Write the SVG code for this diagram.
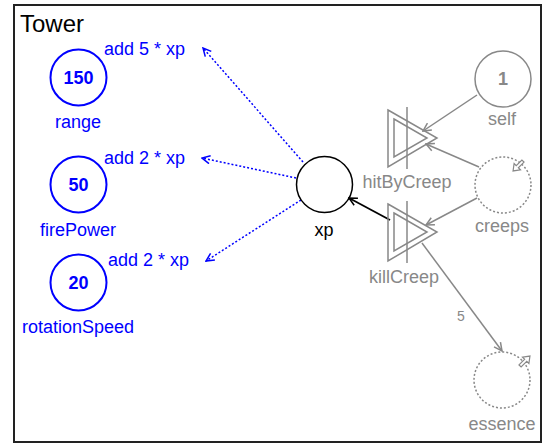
<svg xmlns="http://www.w3.org/2000/svg" width="547" height="445" viewBox="0 0 547 445">
<style>
text{font-family:"Liberation Sans",Arial,sans-serif;font-size:18px}
.b{fill:#0000ff}
.g{fill:#888}
.k{fill:#000}
.bold{font-weight:bold}
.c{text-anchor:middle}
.bc{fill:none;stroke:#0000ff;stroke-width:2}
.gc{fill:none;stroke:#888;stroke-width:1.5}
.gd{fill:none;stroke:#888;stroke-width:1.5;stroke-dasharray:2,2}
.kc{fill:none;stroke:#000;stroke-width:1.5}
.bl{fill:none;stroke:#0000ff;stroke-width:1.5;stroke-dasharray:2,2}
.gl{fill:none;stroke:#888;stroke-width:1.5}
.kl{fill:none;stroke:#000;stroke-width:1.8}
.tri{fill:none;stroke:#888;stroke-width:1.5}
</style>
<defs>
<marker id="ab" viewBox="0 0 10 10" refX="9" refY="5" markerWidth="10" markerHeight="10" markerUnits="userSpaceOnUse" orient="auto"><path d="M1,1 L9,5 L1,9" fill="none" stroke="#0000ff" stroke-width="1.5"/></marker>
<marker id="ag" viewBox="0 0 10 10" refX="9" refY="5" markerWidth="10" markerHeight="10" markerUnits="userSpaceOnUse" orient="auto"><path d="M1,1 L9,5 L1,9" fill="none" stroke="#888" stroke-width="1.5"/></marker>
<marker id="ak" viewBox="0 0 10 10" refX="9" refY="5" markerWidth="10" markerHeight="10" markerUnits="userSpaceOnUse" orient="auto"><path d="M1,1 L9,5 L1,9" fill="none" stroke="#000" stroke-width="1.5"/></marker>
<path id="flow" d="M-7,-1.5 L1,-1.5 L1,-4.5 L7,0 L1,4.5 L1,1.5 L-7,1.5 Z" fill="#fff" stroke="#888" stroke-width="1.2"/>
</defs>
<rect x="14" y="5" width="527" height="437" fill="#fff" stroke="#222" stroke-width="2"/>
<text x="20" y="32" style="font-size:24px" class="k">Tower</text>

<g id="connectors">
<line class="bl" x1="303" y1="162" x2="203" y2="48" marker-end="url(#ab)"/>
<line class="bl" x1="296" y1="178" x2="202" y2="158" marker-end="url(#ab)"/>
<line class="bl" x1="301" y1="200" x2="206" y2="261" marker-end="url(#ab)"/>
<line class="gl" x1="477" y1="95" x2="423" y2="131" marker-end="url(#ag)"/>
<line class="gl" x1="479" y1="167" x2="426" y2="144" marker-end="url(#ag)"/>
<line class="gl" x1="477" y1="198" x2="426" y2="225" marker-end="url(#ag)"/>
<line class="gl" x1="422" y1="243" x2="502" y2="351" marker-end="url(#ag)"/>
<text x="461" y="321" class="g c" style="font-size:14px">5</text>
<line class="kl" x1="390" y1="220" x2="349" y2="198" marker-end="url(#ak)"/>
</g>

<g id="range">
<circle class="bc" cx="78.5" cy="77.5" r="28"/>
<text x="78.5" y="83.5" class="b bold c">150</text>
<text x="78" y="128" class="b c">range</text>
<text x="104" y="55" class="b">add 5 * xp</text>
</g>
<g id="firePower">
<circle class="bc" cx="78.5" cy="184.5" r="28"/>
<text x="78.5" y="191" class="b bold c">50</text>
<text x="78" y="236" class="b c">firePower</text>
<text x="104" y="164" class="b">add 2 * xp</text>
</g>
<g id="rotationSpeed">
<circle class="bc" cx="78.5" cy="282.5" r="28"/>
<text x="78.5" y="289" class="b bold c">20</text>
<text x="78" y="333" class="b c">rotationSpeed</text>
<text x="108" y="266" class="b">add 2 * xp</text>
</g>
<g id="xp">
<circle class="kc" cx="324.5" cy="184.5" r="28"/>
<text x="324" y="236" class="k c">xp</text>
</g>
<g id="self">
<circle class="gc" cx="503" cy="79" r="28"/>
<text x="503" y="85" class="g bold c">1</text>
<text x="502" y="125" class="g c">self</text>
</g>
<g id="hitByCreep">
<polygon class="tri" points="388,110 437,138 388,167"/>
<polygon class="tri" points="394,119 427,138 394,157"/>
<line class="tri" x1="407" y1="107" x2="407" y2="169"/>
<text x="407" y="188" class="g c">hitByCreep</text>
</g>
<g id="creeps">
<circle class="gd" cx="503" cy="185" r="28"/>
<use href="#flow" transform="translate(518,166) rotate(135)"/>
<text x="502" y="232" class="g c">creeps</text>
</g>
<g id="killCreep">
<polygon class="tri" points="388,204 437,232 388,261"/>
<polygon class="tri" points="394,213 427,232 394,251"/>
<line class="tri" x1="407" y1="201" x2="407" y2="263"/>
<text x="404" y="283" class="g c">killCreep</text>
</g>
<g id="essence">
<circle class="gd" cx="502" cy="380" r="28"/>
<use href="#flow" transform="translate(525,361) rotate(-45)"/>
<text x="502" y="430" class="g c">essence</text>
</g>
</svg>
